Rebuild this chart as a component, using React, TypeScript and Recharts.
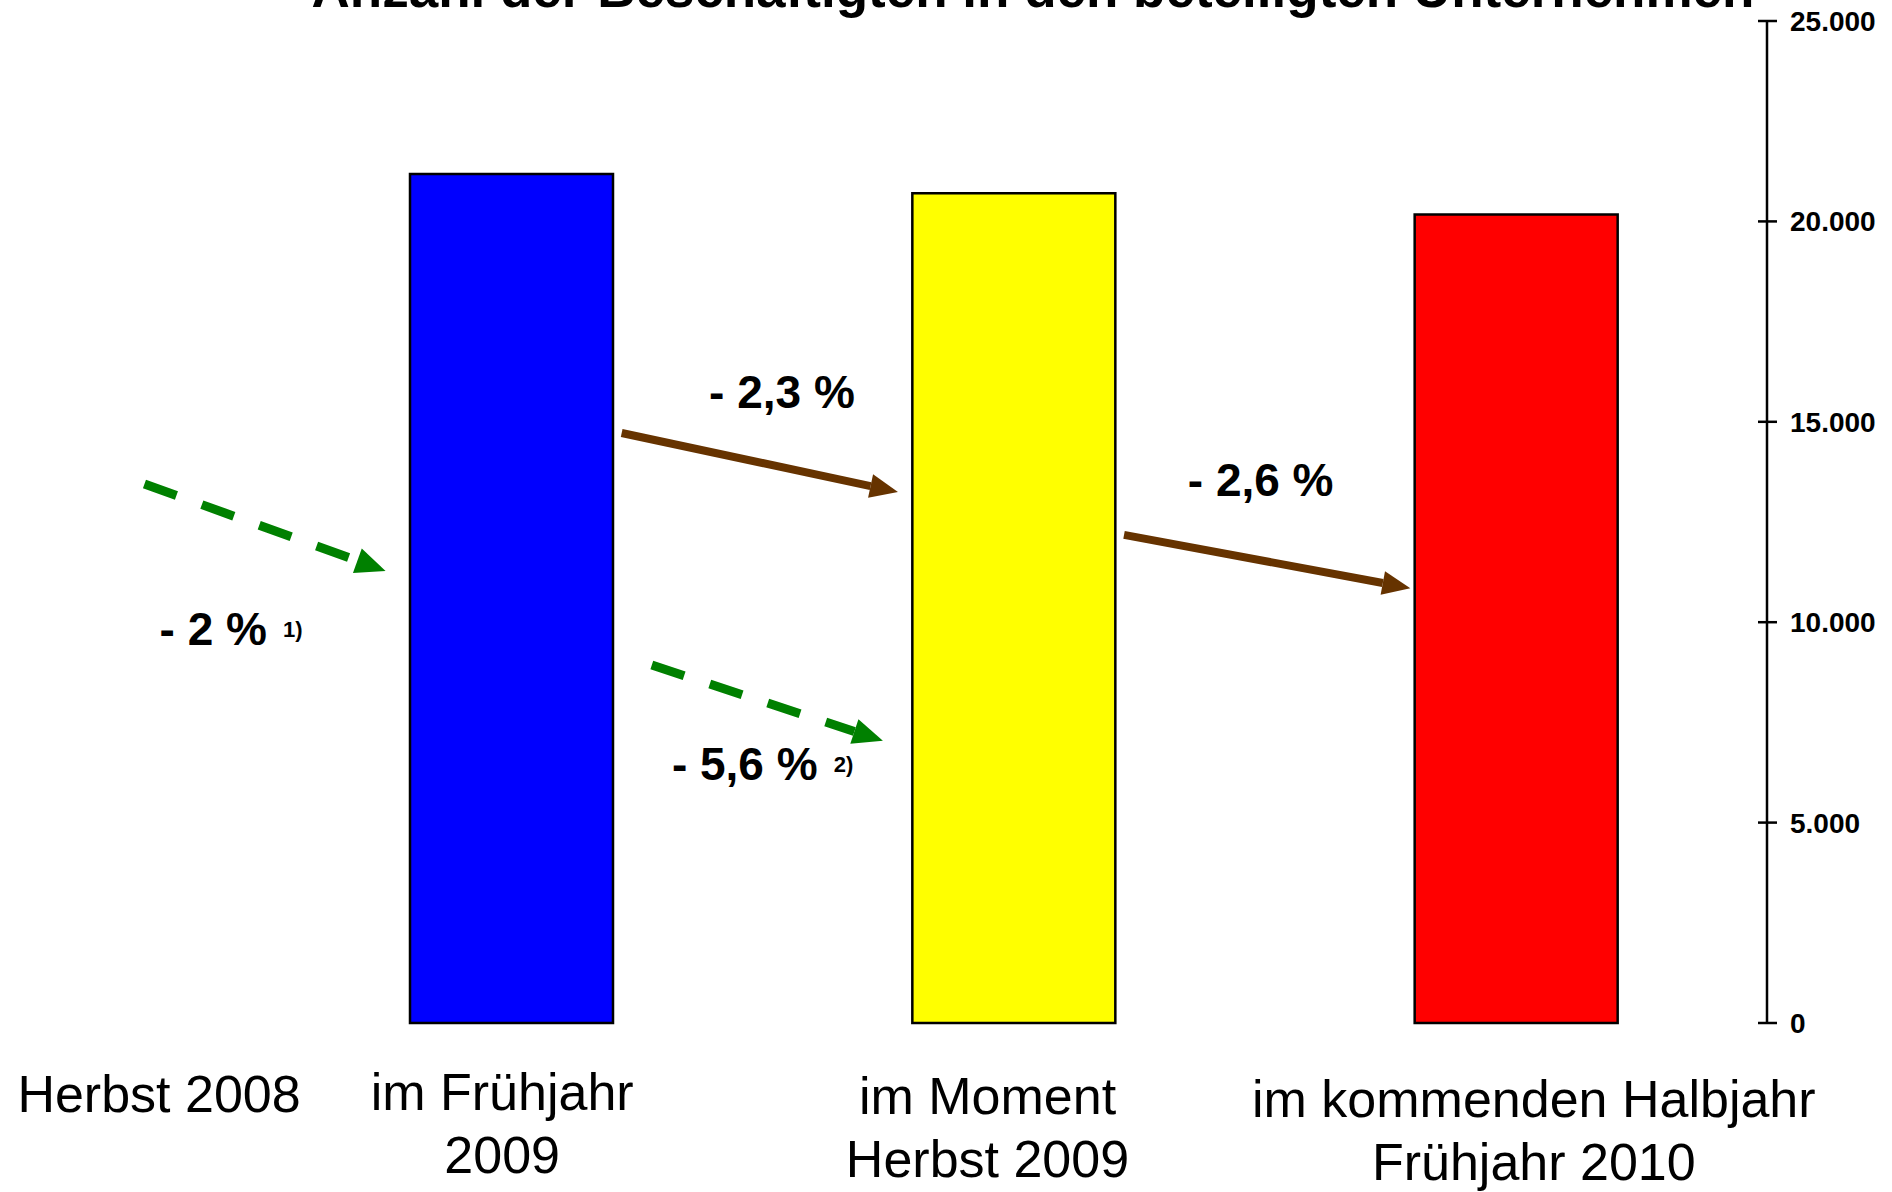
import React from "react";
import { BarChart, Bar, Cell, XAxis, YAxis, ReferenceLine, ReferenceDot } from "recharts";

const TITLE = "Anzahl der Beschäftigten in den beteiligten Unternehmen";
const BASE_PERIOD = "Herbst 2008";
const PERIODS = [
  ["im Frühjahr", "2009"],
  ["im Moment", "Herbst 2009"],
  ["im kommenden Halbjahr", "Frühjahr 2010"],
];
const EMPLOYEES = [21180, 20700, 20170];
const Y_TICKS = [0, 5000, 10000, 15000, 20000, 25000];

// change labels, anchored in axis units (x = category index, y = employees)
const CHANGE_TEXT = ["- 2 %", "- 2,3 %", "- 2,6 %", "- 5,6 %"];
const CHANGE_NOTE = ["1)", "", "", "2)"];
const CHANGE_AT = [
  { x: -0.7, y: 9430 },
  { x: 0.394, y: 15340 },
  { x: 1.347, y: 13150 },
  { x: 0.32, y: 6060 },
];

// arrows between the periods (green dashed = survey comparison, brown = change)
const ARROWS = [
  { from: { x: -0.73, y: 13450 }, to: { x: -0.25, y: 11280 }, kind: "dashed" },
  { from: { x: 0.28, y: 8930 }, to: { x: 0.74, y: 7040 }, kind: "dashed" },
  { from: { x: 0.22, y: 14720 }, to: { x: 0.77, y: 13250 }, kind: "solid" },
  { from: { x: 1.22, y: 12180 }, to: { x: 1.79, y: 10850 }, kind: "solid" },
];

const BAR_COLORS = ["#0000ff", "#ffff00", "#ff0000"];
const LABEL_NUDGE = [
  { dx: -9, dy: 0 },
  { dx: -26, dy: 4 },
  { dx: 18, dy: 7 },
];
const ARROW_STYLE: Record<string, any> = {
  dashed: { color: "#008000", width: 9, dash: "34 27", head: 30, headWidth: 26 },
  solid: { color: "#663300", width: 8, dash: undefined, head: 28, headWidth: 24 },
};

const FONT = "'Liberation Sans', Arial, Helvetica, sans-serif";

const data = PERIODS.map((p, i) => ({ period: p.join(" "), slot: i, employees: EMPLOYEES[i] }));

const fmt = (v: number) => String(v).replace(/\B(?=(\d{3})+(?!\d))/g, ".");

const PeriodTick = (props: any) => {
  const { x, y, payload } = props;
  let i = payload.index;
  if (i == null) i = data.findIndex((d) => d.period === payload.value);
  const n = LABEL_NUDGE[i];
  const cx = x + n.dx;
  return (
    <text x={cx} y={y + 87 + n.dy} textAnchor="middle" fontSize={52} fontFamily={FONT} fill="#000">
      {PERIODS[i].map((line, k) => (
        <tspan key={k} x={cx} dy={k === 0 ? 0 : 63}>
          {line}
        </tspan>
      ))}
    </text>
  );
};

const CountTick = (props: any) => {
  const { x, y, payload } = props;
  return (
    <g>
      <line x1={x - 32} x2={x - 13} y1={y} y2={y} stroke="#000" strokeWidth={2.5} />
      <text x={x} y={y} dy="0.36em" fontSize={28} fontWeight="bold" fontFamily={FONT} fill="#000">
        {fmt(payload.value)}
      </text>
    </g>
  );
};

const arrowShape = (kind: string) => (p: any) => {
  const s = ARROW_STYLE[kind];
  const { x1, y1, x2, y2 } = p;
  const len = Math.hypot(x2 - x1, y2 - y1);
  const ux = (x2 - x1) / len;
  const uy = (y2 - y1) / len;
  const bx = x2 - ux * s.head;
  const by = y2 - uy * s.head;
  const hw = s.headWidth / 2;
  return (
    <g>
      <line x1={x1} y1={y1} x2={bx} y2={by} stroke={s.color} strokeWidth={s.width} strokeDasharray={s.dash} />
      <polygon
        points={`${x2},${y2} ${bx - uy * hw},${by + ux * hw} ${bx + uy * hw},${by - ux * hw}`}
        fill={s.color}
      />
    </g>
  );
};

const changeShape = (i: number) => (p: any) => (
  <text x={p.cx} y={p.cy} fontSize={46} fontWeight="bold" fontFamily={FONT} fill="#000">
    {CHANGE_TEXT[i]}
    {CHANGE_NOTE[i] && (
      <tspan fontSize={22} dx={16} dy={-8}>
        {CHANGE_NOTE[i]}
      </tspan>
    )}
  </text>
);

const baseShape = (p: any) => (
  <text x={p.cx} y={p.cy + 89} textAnchor="middle" fontSize={52} fontFamily={FONT} fill="#000">
    {BASE_PERIOD}
  </text>
);

export default function App() {
  return (
    <div style={{ position: "absolute", left: 0, top: 0, width: 1892, height: 1192, background: "#fff", overflow: "hidden" }}>
      <BarChart width={1892} height={1192} data={data} margin={{ top: 21, right: 15, bottom: 19, left: 260 }}>
        <XAxis
          dataKey="period"
          axisLine={false}
          tickLine={false}
          tickSize={0}
          tickMargin={0}
          interval={0}
          height={150}
          tick={<PeriodTick />}
        />
        <XAxis
          xAxisId="pos"
          dataKey="slot"
          type="number"
          scale="linear"
          domain={[-0.5, 2.5]}
          allowDataOverflow
          hide
        />
        <YAxis
          orientation="right"
          width={110}
          domain={[0, 25000]}
          ticks={Y_TICKS}
          interval={0}
          axisLine={{ stroke: "#000", strokeWidth: 2.5 }}
          tickLine={false}
          tickSize={10}
          tickMargin={13}
          tick={<CountTick />}
        />
        <Bar dataKey="employees" barSize={203} stroke="#000" strokeWidth={2.5} isAnimationActive={false}>
          {EMPLOYEES.map((_, i) => (
            <Cell key={i} fill={BAR_COLORS[i]} />
          ))}
        </Bar>
        {ARROWS.map((a, i) => (
          <ReferenceLine
            key={"a" + i}
            xAxisId="pos"
            segment={[a.from, a.to]}
            ifOverflow="visible"
            shape={arrowShape(a.kind)}
          />
        ))}
        {CHANGE_AT.map((c, i) => (
          <ReferenceDot key={"c" + i} xAxisId="pos" x={c.x} y={c.y} ifOverflow="visible" shape={changeShape(i)} />
        ))}
        <ReferenceDot xAxisId="pos" x={-0.701} y={0} ifOverflow="visible" shape={baseShape} />
      </BarChart>
      <svg width={1892} height={60} style={{ position: "absolute", left: 0, top: 0, pointerEvents: "none" }}>
        <text x={1033} y={7} textAnchor="middle" fontSize={53} fontWeight="bold" fontFamily={FONT} fill="#000">
          {TITLE}
        </text>
      </svg>
    </div>
  );
}
